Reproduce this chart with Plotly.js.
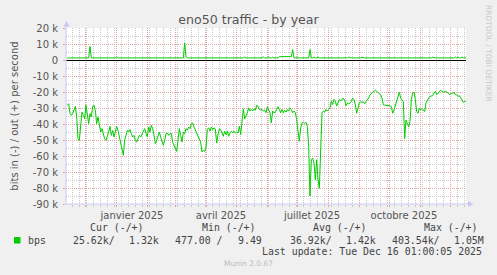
<!DOCTYPE html>
<html><head><meta charset="utf-8">
<script src="https://cdn.plot.ly/plotly-3.0.1.min.js"></script>
<style>html,body{margin:0;padding:0;background:#F0F0F0;}#chart{width:497px;height:275px;}</style>
</head><body><div id="chart"></div>
<script>
// RRD samples: regular step (munin yearly archive), first sample and step
const sampleStart = '2024-11-12T09:00:00Z';
const sampleStepHours = 32;

// bits in (shown negative), in k
const inKbps = [
-28.3,-27.3,-33.5,-34.6,-33.5,-31.5,-29.0,-35.6,-49.2,-50.2,
-39.8,-32.5,-34.6,-36.7,-28.3,-35.6,-39.8,-33.5,-35.6,-29.0,
-28.3,-31.5,-39.8,-35.6,-40.8,-45.0,-42.9,-46.0,-49.2,-50.2,
-48.1,-45.0,-41.5,-47.1,-44.0,-48.1,-45.0,-41.5,-44.0,-48.1,
-52.3,-55.4,-59.6,-50.2,-46.0,-44.0,-45.0,-43.5,-46.0,-48.1,
-47.1,-50.2,-51.3,-49.2,-47.1,-48.1,-46.0,-44.0,-42.9,-46.0,
-48.1,-41.9,-45.0,-40.8,-42.9,-47.1,-52.3,-50.2,-47.1,-45.0,
-48.1,-51.3,-53.3,-50.2,-46.0,-45.6,-47.1,-46.0,-46.0,-51.3,
-53.3,-55.4,-57.1,-50.2,-42.9,-47.1,-51.3,-45.0,-46.0,-42.9,
-44.0,-41.9,-42.9,-39.8,-39.4,-41.9,-44.0,-45.0,-47.1,-50.2,
-51.3,-57.5,-56.5,
-57.1,-55.0,-43.5,-42.4,-44.5,-41.8,-43.5,-42.4,-43.1,-51.9,
-46.6,-43.1,-43.5,-45.6,-47.7,-44.5,-46.6,-44.5,-47.7,-45.6,
-44.5,-45.6,-44.5,-45.6,-45.2,-45.6,-41.4,-46.6,-39.3,-30.5,
-36.8,-35.1,-33.0,-29.9,-31.9,-30.9,-31.9,-30.5,-31.3,-28.4,
-28.8,-30.9,-31.3,-30.9,-31.9,-31.3,-33.0,-29.2,-31.9,-33.0,
-39.3,-31.9,-33.0,-32.6,-30.9,-29.2,-30.9,-33.0,-30.9,-33.0,
-31.3,-32.6,-30.9,-31.9,-29.9,-30.9,-33.0,-31.9,-33.0,-37.2,
-44.5,-50.8,-42.4,-39.3,-38.9,-39.7,-38.9,-41.4,-54.0,-85.0,
-62.3,-61.3,-64.4,-74.9,-62.3,-74.9,-80.2,-54.0,-33.0,-31.9,
-32.6,-30.9,-31.9,-30.9,-29.9,-25.7,-27.8,-24.6,-25.7,-28.8,
-26.7,-24.6,-25.7,
-24.4,-23.8,-25.3,-28.6,-26.9,-27.4,-26.9,-25.9,-23.8,-24.8,
-28.0,-33.3,-30.1,-26.5,-26.1,-26.5,-26.1,-27.4,-25.9,-24.8,
-23.8,-21.7,-20.6,-20.2,-19.6,-18.9,-19.6,-20.2,-20.6,-21.7,
-23.8,-28.0,-28.2,-28.2,-28.2,-28.2,-28.6,-29.1,-33.3,-31.2,
-28.0,-24.8,-22.7,-20.2,-23.8,-24.8,-25.9,-49.1,-37.5,-39.6,
-41.7,-38.5,-24.8,-20.6,-20.2,-24.8,-32.2,-33.3,-30.1,-31.2,
-30.1,-31.2,-32.2,-26.9,-24.8,-23.8,-22.7,-22.7,-22.3,-20.6,
-19.6,-21.7,-20.6,-20.2,-18.9,-19.6,-20.2,-19.6,-19.8,-20.2,
-21.1,-21.7,-20.6,-21.1,-20.2,-21.7,-21.7,-22.7,-22.3,-23.8,
-25.9,-26.5,-25.9,-25.6
];

// bits out (positive), in k
const outKbps = [
1.3,1.3,1.3,1.3,1.3,1.3,1.3,1.3,1.3,1.3,1.3,1.3,1.3,1.3,1.3,1.3,1.3,8.5,1.3,1.3,
1.3,1.3,1.3,1.3,1.3,1.3,1.3,1.3,1.3,1.3,1.3,1.3,1.3,1.3,1.3,1.3,1.3,1.9,1.3,1.3,
1.3,1.3,1.3,1.3,1.3,1.3,1.3,1.3,1.3,1.3,1.3,1.3,1.3,1.3,1.3,1.3,1.3,1.3,1.3,1.3,
1.3,1.3,1.3,1.3,1.3,1.3,1.3,1.3,1.3,1.3,1.3,1.3,1.3,1.3,1.3,1.3,1.3,1.3,1.3,1.3,
1.3,1.3,1.3,1.3,1.3,1.3,1.3,1.3,10.6,2.0,1.3,1.3,1.3,1.3,1.3,1.3,1.3,1.3,1.3,1.3,
1.3,1.3,1.3,1.3,1.3,1.3,1.3,1.3,1.3,1.3,1.3,1.3,1.3,1.3,1.3,1.3,1.3,1.3,1.3,1.3,
1.3,1.3,1.3,1.3,1.3,1.3,1.3,1.3,1.3,1.3,1.3,1.3,1.3,1.9,1.3,1.3,1.3,1.3,1.3,1.3,
1.3,1.3,1.3,1.3,1.3,1.3,1.3,1.9,1.3,1.3,1.3,1.9,1.3,1.3,1.8,1.3,1.3,1.3,1.3,2.1,
2.1,2.1,2.1,2.1,2.1,2.1,2.1,2.1,2.1,6.5,1.3,1.3,1.3,1.3,1.3,1.3,1.3,1.3,1.3,1.3,
1.3,1.3,6.5,1.3,1.3,1.9,1.3,1.3,1.9,1.3,1.3,1.3,1.3,1.3,1.3,1.3,1.3,1.3,1.3,1.3,
1.3,1.3,1.3,1.3,1.3,1.3,1.3,1.3,1.3,1.3,1.3,1.8,1.3,1.3,1.3,1.3,1.3,1.3,1.3,1.3,
1.3,1.8,1.3,1.3,1.3,1.3,1.3,1.3,1.3,1.3,1.3,1.3,1.3,1.3,1.3,1.3,1.3,1.3,1.3,1.3,
1.3,1.3,1.3,1.3,1.3,1.3,1.3,1.3,1.3,1.3,1.3,1.3,1.3,1.3,1.3,1.3,1.3,1.3,1.3,1.3,
1.3,1.3,1.3,1.3,1.3,1.3,1.3,1.3,1.3,1.3,1.3,1.3,1.3,1.3,1.8,1.3,1.3,1.3,1.3,1.3,
1.3,1.3,1.3,1.3,1.3,1.3,1.3,1.3,1.3,1.3,1.3,1.9,1.3,1.9,1.3,1.3,1.9,1.3,1.3,1.32
];

const yTickVals = [20,10,0,-10,-20,-30,-40,-50,-60,-70,-80,-90];
const yTickText = ['20 k','10 k','0','-10 k','-20 k','-30 k','-40 k','-50 k','-60 k','-70 k','-80 k','-90 k'];
const xLabelDates = ['2025-01-16','2025-04-15','2025-07-15','2025-10-15'];
const xLabelText = ['janvier 2025','avril 2025','juillet 2025','octobre 2025'];
const legendHeaders = ['Cur (-/+)','Min (-/+)','Avg (-/+)','Max (-/+)'];
const legendName = 'bps';
const legendValues = ['25.62k/','1.32k','477.00 /','9.49','36.92k/','1.42k','403.54k/','1.05M'];
const lastUpdate = 'Last update: Tue Dec 16 01:00:05 2025';
const chartTitle = 'eno50 traffic - by year';
const yTitle = 'bits in (-) / out (+) per second';

const t0 = Date.parse(sampleStart);
const stepMs = sampleStepHours * 3600000;
const times = inKbps.map((_, i) => new Date(t0 + i * stepMs).toISOString().slice(0, 19).replace('T', ' '));
const xRange = ['2024-11-11 01:00:00', '2025-12-16 01:00:00'];

const L = 66, R = 466, T = 28, B = 204;
const px = x => (x - L) / (R - L);
const py = y => (B - y) / (B - T);

const GREEN = '#00CC00';
const MAJ = '#E6A0A0', MIN = '#C8C8C8', AX = '#C8C8F4';
const mono = {family: 'DejaVu Sans Mono', size: 9.9, color: '#444'};

const traces = [
  {x: times, y: inKbps, type: 'scatter', mode: 'lines', line: {color: GREEN, width: 1}, hoverinfo: 'skip'},
  {x: times, y: outKbps, type: 'scatter', mode: 'lines', line: {color: GREEN, width: 1}, hoverinfo: 'skip'},
  {x: [], y: [], xaxis: 'x2', yaxis: 'y', type: 'scatter', mode: 'lines', hoverinfo: 'skip'}
];

const annotations = [];
const headerX = [89.3, 201, 312.3, 422.7];
legendHeaders.forEach((t, i) => annotations.push({text: t, x: px(headerX[i]), y: py(227.3)}));
annotations.push({text: legendName, x: px(26.7), y: py(240)});
const valX = [72.3, 128.3, 174.3, 237.3, 289.3, 345, 391, 453.3];
legendValues.forEach((t, i) => annotations.push({text: t, x: px(valX[i]), y: py(240)}));
annotations.forEach(a => Object.assign(a, {xref: 'paper', yref: 'paper', xanchor: 'left', yanchor: 'middle', showarrow: false, borderpad: 0, font: mono}));
annotations.push({text: lastUpdate, x: px(482.5), y: py(251.7), xref: 'paper', yref: 'paper', xanchor: 'right', yanchor: 'middle', showarrow: false, borderpad: 0, font: mono});
annotations.push({text: 'Munin 2.0.67', x: px(248), y: py(263.3), xref: 'paper', yref: 'paper', xanchor: 'center', yanchor: 'middle', showarrow: false, borderpad: 0, font: {family: 'DejaVu Sans', size: 7.5, color: '#BBBBBB'}});
annotations.push({text: 'RRDTOOL / TOBI OETIKER', x: px(488.5), y: py(53.5), xref: 'paper', yref: 'paper', xanchor: 'center', yanchor: 'middle', textangle: 90, showarrow: false, borderpad: 0, font: {family: 'DejaVu Sans', size: 7.5, color: '#C8C8C8'}});

const shapes = [
  {type: 'line', xref: 'paper', yref: 'paper', x0: 0, x1: 0, y0: 0, y1: py(24), line: {color: AX, width: 1}},
  {type: 'line', xref: 'paper', yref: 'paper', x0: 0, x1: px(469), y0: 0, y1: 0, line: {color: AX, width: 1}},
  {type: 'path', xref: 'paper', yref: 'paper', path: `M ${px(63.5)} ${py(26.5)} L ${px(69.5)} ${py(26.5)} L ${px(66.5)} ${py(21)} Z`, fillcolor: AX, line: {width: 0}},
  {type: 'path', xref: 'paper', yref: 'paper', path: `M ${px(468)} ${py(201)} L ${px(468)} ${py(207)} L ${px(473.5)} ${py(204)} Z`, fillcolor: AX, line: {width: 0}},
  {type: 'rect', xref: 'paper', yref: 'paper', x0: px(14), x1: px(20.5), y0: py(237), y1: py(243.5), fillcolor: GREEN, line: {width: 0}}
];

const layout = {
  width: 497, height: 275,
  margin: {l: L, r: 497 - R, t: T, b: 275 - B, pad: 0},
  paper_bgcolor: '#F0F0F0', plot_bgcolor: '#FFFFFF',
  showlegend: false,
  font: {family: 'DejaVu Sans', size: 10, color: '#555'},
  title: {text: chartTitle, x: 248.5 / 497, xanchor: 'center', y: 1 - 20 / 275, yanchor: 'middle', font: {family: 'DejaVu Sans', size: 12.6, color: '#555'}},
  xaxis: {
    type: 'date', range: xRange, tick0: '2024-12-01', dtick: 'M1',
    showgrid: true, gridcolor: MAJ, griddash: '1px,1px', gridwidth: 1,
    showticklabels: false, ticks: 'outside', ticklen: 2, tickcolor: MAJ,
    zeroline: false, showline: false, fixedrange: true,
    minor: {tick0: '2024-11-11', dtick: 7 * 86400000, showgrid: true, gridcolor: MIN, griddash: '1px,1px', ticks: 'outside', ticklen: 2, tickcolor: MIN}
  },
  xaxis2: {
    type: 'date', range: xRange, overlaying: 'x', anchor: 'y', side: 'bottom',
    tickmode: 'array', tickvals: xLabelDates, ticktext: xLabelText,
    showgrid: false, zeroline: false, showline: false, ticks: '', ticklabelstandoff: 4,
    tickfont: {family: 'DejaVu Sans', size: 10, color: '#555'}, fixedrange: true
  },
  yaxis: {
    range: [-90, 20], tickmode: 'array', tickvals: yTickVals, ticktext: yTickText,
    showgrid: true, gridcolor: MAJ, griddash: '1px,1px', gridwidth: 1,
    zeroline: true, zerolinecolor: '#000000', zerolinewidth: 1,
    showline: false, ticks: 'outside', ticklen: 2, tickcolor: MAJ, ticklabelstandoff: 3,
    tickfont: {family: 'DejaVu Sans', size: 10, color: '#555'},
    minor: {dtick: 5, tick0: 0, showgrid: true, gridcolor: MIN, griddash: '1px,1px'},
    title: {text: yTitle, standoff: 12, font: {family: 'DejaVu Sans', size: 10, color: '#555'}},
    fixedrange: true
  },
  shapes: shapes,
  annotations: annotations
};

Plotly.newPlot('chart', traces, layout, {staticPlot: true, displayModeBar: false});
</script>
</body></html>
